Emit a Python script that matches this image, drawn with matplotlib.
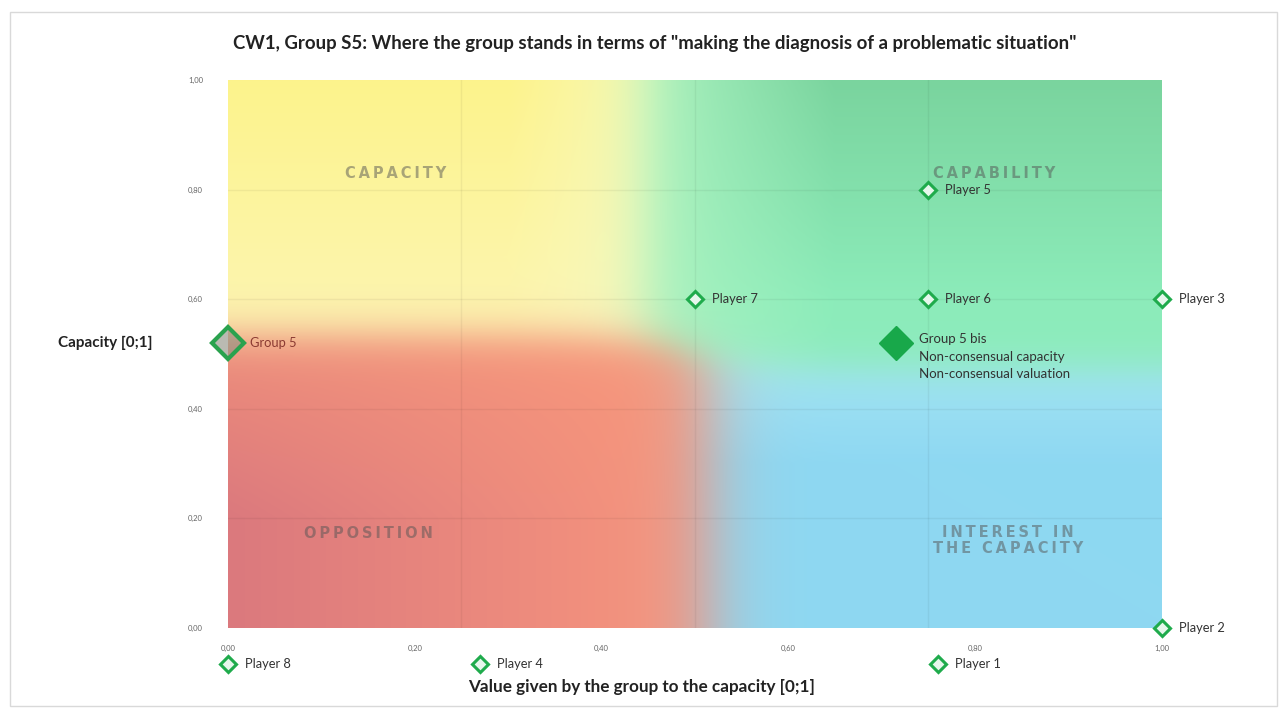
import matplotlib
matplotlib.use("Agg")
import matplotlib.pyplot as plt
import matplotlib.patches as patches
import numpy as np

# --- data ---
player_names = ["Player 1", "Player 2", "Player 3", "Player 4",
                "Player 5", "Player 6", "Player 7", "Player 8"]
player_value = [0.76, 1.00, 1.00, 0.27, 0.75, 0.75, 0.50, 0.00]
player_capacity = [-0.065, 0.00, 0.60, -0.065, 0.80, 0.60, 0.60, -0.065]

group_name = "Group 5"
group_value = 0.00
group_capacity = 0.52

bis_text = ["Group 5 bis", "Non-consensual capacity", "Non-consensual valuation"]
bis_value = 0.715
bis_capacity = 0.52

quad_labels = ["CAPACITY", "CAPABILITY", "OPPOSITION", "INTEREST IN\nTHE CAPACITY"]
quad_x = [0.18, 0.82, 0.15, 0.835]
quad_y = [0.83, 0.83, 0.173, 0.16]

ticks = [0.0, 0.2, 0.4, 0.6, 0.8, 1.0]

title = 'CW1, Group S5: Where the group stands in terms of "making the diagnosis of a problematic situation"'

plt.rcParams['font.family'] = ['Lato', 'DejaVu Sans']

fig = plt.figure(figsize=(12.79, 7.08), dpi=100)
ax = fig.add_axes([228/1279, 1-628/708, 934/1279, 548/708])

# background picture of the four zones (blurred quadrants)
n = 400
X, Y = np.meshgrid(np.linspace(0, 1, n), np.linspace(0, 1, n))
def sig(v, c, w):
    return 1/(1+np.exp(-(v-c)/w))

def blend(a, b, t):
    a = np.array(a, float); b = np.array(b, float)
    return a + (b-a)*t[..., None]

yellow = blend((253, 243, 140), (252, 246, 178), 1-np.clip((Y-0.55)/0.45, 0, 1))
yellow = blend(yellow, (248, 250, 195), np.clip((X-0.3)/0.14, 0, 1)*0.7)
green = blend((140, 236, 186), (122, 212, 158), np.clip((Y-0.6)/0.4, 0, 1))
green = blend(green, (168, 242, 192), 1-np.clip((X-0.45)/0.2, 0, 1))
red = blend((219, 121, 126), (245, 147, 125), np.clip(X/0.45, 0, 1))
red = blend(red, (248, 152, 122), np.clip((Y-0.2)/0.3, 0, 1)*0.6)
blue = blend((142, 216, 242), (165, 228, 246), np.clip((Y-0.3)/0.2, 0, 1))

top = blend(yellow, green, sig(X, 0.445, 0.018))
bottom = blend(red, blue, sig(X, 0.515, 0.022))
hy = 0.535 - 0.065*sig(X, 0.5, 0.04)
img = blend(bottom, top, sig(Y, hy, 0.022)) / 255.0
ax.imshow(img, extent=(0, 1, 0, 1), origin='lower', aspect='auto', zorder=0)

for gx in [0.25, 0.5, 0.75]:
    ax.axvline(gx, color='k', alpha=0.05, lw=1, zorder=1)
for gy in [0.2, 0.4, 0.6, 0.8]:
    ax.axhline(gy, color='k', alpha=0.05, lw=1, zorder=1)

for lab, qx, qy in zip(quad_labels, quad_x, quad_y):
    spaced = "\n".join("\u2009".join(w) for w in lab.split("\n"))
    ax.text(qx, qy, spaced, ha='center', va='center', fontsize=10.5,
            fontweight='bold', family='DejaVu Sans', color='#555555',
            alpha=0.5, linespacing=1.05, zorder=2)

# players
ax.plot(player_value, player_capacity, ls='none', marker='D', ms=8,
        mfc='#e6f7ec', mec='#1fab4c', mew=2.2, clip_on=False, zorder=4)
for name, px, py in zip(player_names, player_value, player_capacity):
    ax.annotate(name, (px, py), xytext=(12, 0), textcoords='offset points',
                va='center', ha='left', fontsize=9.3, color='#333333',
                annotation_clip=False, zorder=5)

# group 5
ax.plot([group_value], [group_capacity], ls='none', marker='D', ms=16,
        mfc=(0.55, 0.55, 0.5, 0.6), mec='#2aa24e', mew=3, clip_on=False, zorder=4)
ax.annotate(group_name, (group_value, group_capacity), xytext=(16, 0),
            textcoords='offset points', va='center', ha='left', fontsize=9.3,
            color='#8b3a32', annotation_clip=False, zorder=5)

# group 5 bis
ax.plot([bis_value], [bis_capacity], ls='none', marker='D', ms=17,
        mfc='#18a84a', mec='#18a84a', mew=1, zorder=4)
ax.annotate("\n".join(bis_text), (bis_value, bis_capacity), xytext=(17, 7),
            textcoords='offset points', va='top', ha='left', fontsize=9.5,
            color='#333333', linespacing=1.55, zorder=5)

ax.set_xlim(0, 1)
ax.set_ylim(0, 1)
ax.set_xticks(ticks)
ax.set_yticks(ticks)
ax.set_xticklabels([f"{t:.2f}".replace('.', ',') for t in ticks])
ax.set_yticklabels([f"{t:.2f}".replace('.', ',') for t in ticks])
ax.tick_params(length=0, labelsize=5.5, labelcolor='#666666')
ax.tick_params(axis='x', pad=12)
ax.tick_params(axis='y', pad=18)
for s in ax.spines.values():
    s.set_visible(False)

fig.text(0.512, 1-43/708, title, ha='center', va='center', fontsize=13.4,
         fontweight='bold', color='#222222')
fig.text(105/1279, 1-343/708, "Capacity [0;1]", ha='center', va='center',
         fontsize=11, fontweight='bold', color='#222222')
fig.text(642/1279, 1-687/708, "Value given by the group to the capacity [0;1]",
         ha='center', va='center', fontsize=12.3, fontweight='bold', color='#222222')

fig.patches.append(patches.Rectangle((10/1279, 2/708), 1267/1279, 694/708,
                                     transform=fig.transFigure, fill=False,
                                     ec='#d9d9d9', lw=1))

fig.savefig("out.png", dpi=100)
